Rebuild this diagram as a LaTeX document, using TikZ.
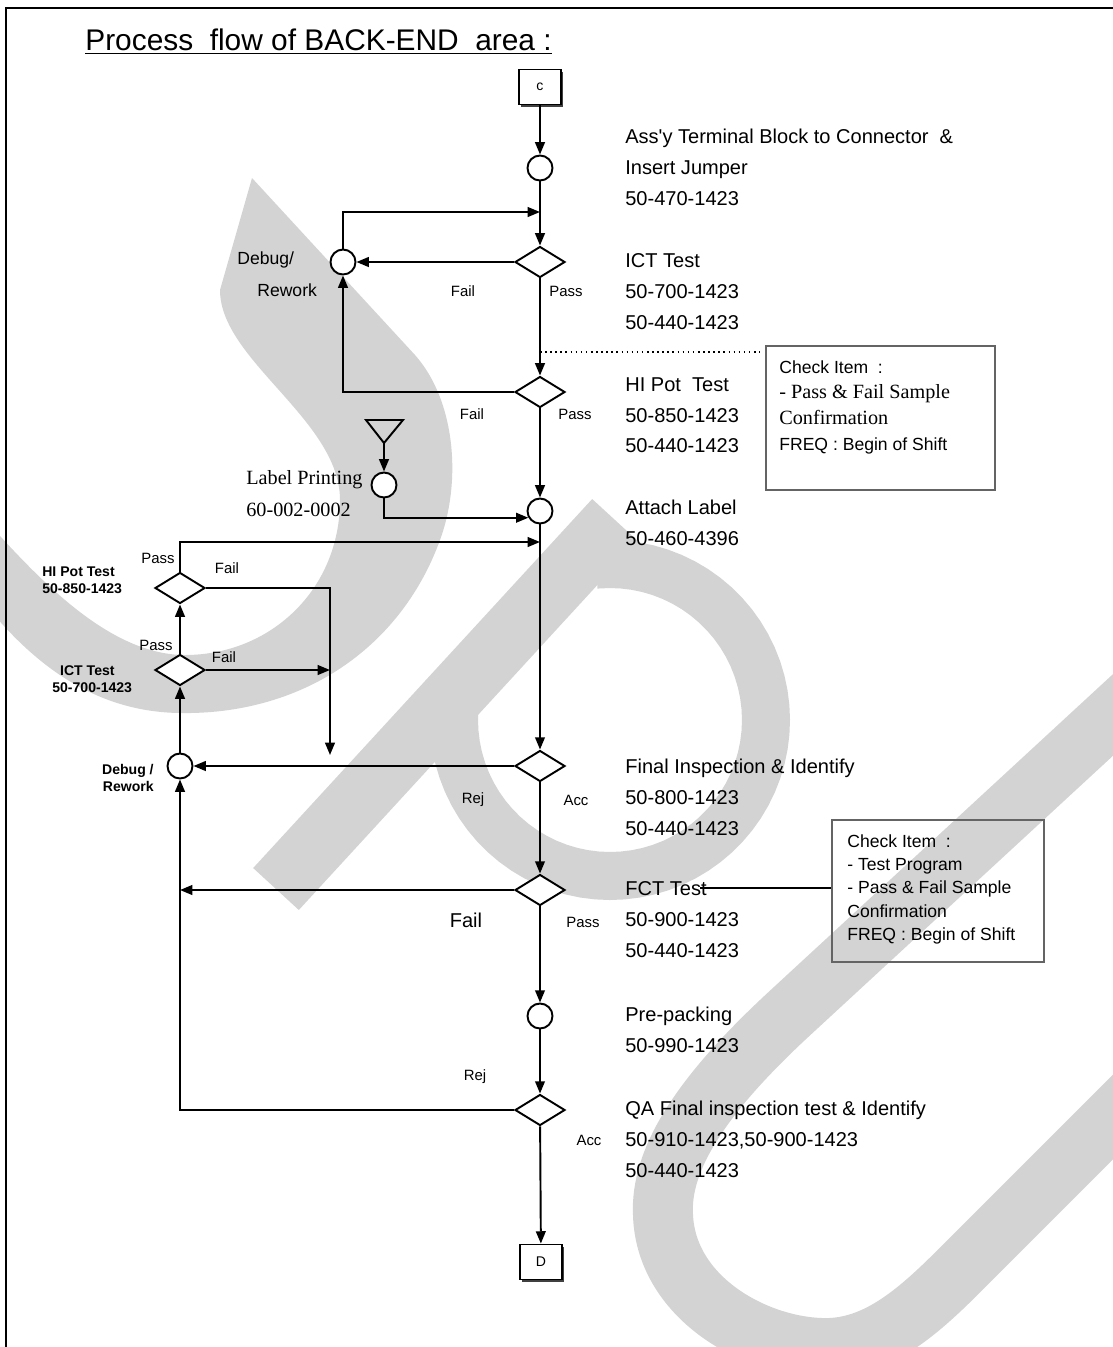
\documentclass[tikz,border=0pt]{standalone}
\usepackage{fontspec}
\setmainfont{Liberation Sans}
\newfontfamily\serifface{Liberation Serif}
\usetikzlibrary{arrows.meta,shapes.geometric,shadows}
\definecolor{wmgrey}{RGB}{211,211,211}
\definecolor{boxgrey}{RGB}{100,100,100}
\newcommand\stepfont{\fontsize{11.4}{17.6}\selectfont}
\newcommand\tagfont{\fontsize{8.5}{10}\selectfont}

\begin{document}
\begin{tikzpicture}[x=0.02cm,y=-0.02cm,
  flow/.style={line width=1.1pt},
  arr/.style={flow,-{Triangle[length=7pt,width=5.5pt]}},
  opcirc/.style={circle,draw,flow,fill=white,minimum size=0.5cm,inner sep=0pt},
  testdia/.style={diamond,draw,flow,fill=white,minimum width=1cm,minimum height=0.62cm,inner sep=0pt},
  termbox/.style={rectangle,draw,flow,fill=white,minimum width=0.84cm,minimum height=0.7cm,inner sep=0pt,
    font=\fontsize{8}{9}\selectfont,drop shadow={shadow xshift=1.3pt,shadow yshift=-1.3pt,fill=black!75,opacity=1}},
  chkbox/.style={rectangle,draw=boxgrey,line width=1.2pt},
  steptext/.style={anchor=north west,align=left,inner sep=0pt,font=\stepfont},
  tag/.style={inner sep=0pt,font=\tagfont},
  wm/.style={wmgrey,line width=1.2cm}]

\useasboundingbox (0,0) rectangle (1113,1347);
\fill[white] (0,0) rectangle (1113,1347);

% watermark
\begin{scope}
  \clip (0,0) rectangle (1113,1347);
  \fill[wmgrey] (252,178) -- (415,355) .. controls (455,400) and (462,480) .. (440,540)
    .. controls (400,650) and (300,715) .. (180,713) .. controls (100,712) and (40,670) .. (-10,610)
    -- (-10,525) .. controls (40,580) and (110,655) .. (185,655)
    .. controls (270,655) and (340,590) .. (340,500)
    .. controls (340,420) and (220,360) .. (220,290) -- cycle;
  \draw[wm,line width=1.24cm] (276,889) -- (615,520);
  \draw[wm,line width=0.96cm] plot[domain=-95:185,samples=60] ({610+156*cos(\x)},{720+156*sin(\x)});
  \draw[wm] (1140,690) -- (790,1013) .. controls (700,1096) and (660,1160) .. (663,1215)
    .. controls (666,1300) and (760,1350) .. (830,1348)
    .. controls (880,1346) and (920,1310) .. (960,1270) -- (1140,1090);
\end{scope}

% frame and title
\draw[line width=1.2pt] (6,1347) -- (6,8) -- (1113,8);
\node[anchor=west,inner sep=0pt,font=\fontsize{17}{19}\selectfont] (title) at (85,42)
  {\underline{Process~~flow of BACK-END~~area :}};

% main line
\node[termbox] (cbox) at (540,87) {c};
\node[opcirc] (op1) at (540,168) {};
\node[testdia] (ict) at (540,262) {};
\node[opcirc] (rw1) at (343,262) {};
\node[testdia] (hipot) at (540,392) {};
\node[opcirc] (lbl) at (384,485) {};
\node[opcirc] (att) at (540,511) {};
\node[testdia] (fin) at (540,766) {};
\node[testdia] (fct) at (540,890) {};
\node[opcirc] (pre) at (540,1016) {};
\node[testdia] (qa) at (540,1110) {};
\node[termbox] (dbox) at (541,1262) {D};

% retest branch
\node[testdia] (hp2) at (180,588) {};
\node[testdia] (ict2) at (180,670) {};
\node[opcirc] (rw2) at (180,766) {};

\coordinate (lp1) at (540,212);
\coordinate (lp2) at (540,542);
\coordinate (fdrop) at (330,755);
\coordinate (hpdot) at (540,352);
\coordinate (tritip) at (384,443);
\coordinate (fctend) at (700,888);

\draw[arr] (cbox) -- (op1);
\draw[arr] (op1) -- (ict);
\draw[arr] (rw1.north) |- (lp1);
\draw[arr] (ict) -- (rw1);
\draw[arr] (ict) -- (hipot);
\draw[arr] (hipot.west) -| (rw1.south);
\draw[arr] (hipot) -- (att);
\draw[flow] (366,420) -- (403,420) -- (tritip) -- cycle;
\draw[arr] (tritip) -- (lbl);
\draw[arr] (lbl.south) |- (att.210);
\draw[arr] (hp2.north) |- (lp2);
\draw[arr] (hp2.east) -| (fdrop);
\draw[arr] (ict2.east) -- (ict2.east -| fdrop);
\draw[arr] (ict2) -- (hp2);
\draw[arr] (rw2) -- (ict2);
\draw[arr] (att) -- (fin);
\draw[arr] (fin) -- (rw2);
\draw[arr] (fin) -- (fct);
\draw[arr] (fct.west) -- (fct.west -| rw2);
\draw[arr] (fct) -- (pre);
\draw[arr] (pre) -- (qa);
\draw[arr] (qa.west) -| (rw2.south);
\draw[arr] (qa) -- (dbox);

% check items
\node[chkbox,minimum width=4.58cm,minimum height=2.88cm] (chk1) at (880.5,418) {};
\node[anchor=north west,align=left,inner sep=0pt,font=\fontsize{10}{14.7}\selectfont] (chk1txt) at (779,360)
  {Check Item~~:\\{\serifface\fontsize{11.5}{14.7}\selectfont - Pass \& Fail Sample}\\
   {\serifface\fontsize{11.5}{14.7}\selectfont Confirmation}\\FREQ : Begin of Shift};
\draw[dotted,line width=0.9pt] (hpdot) -- ([xshift=-3pt]hpdot -| chk1.west);
\node[chkbox,minimum width=4.24cm,minimum height=2.84cm] (chk2) at (938,891) {};
\node[anchor=north west,align=left,inner sep=0pt,font=\fontsize{10}{13.3}\selectfont] (chk2txt) at (847,834)
  {Check Item~~:\\- Test Program\\- Pass \& Fail Sample\\Confirmation\\FREQ : Begin of Shift};
\draw[line width=0.6pt] (fctend) -- (fctend -| chk2.west);

% step texts
\node[steptext] (t1) at (625,129) {Ass\textquotesingle y Terminal Block to Connector~~\&\\Insert Jumper\\50-470-1423};
\node[steptext] (t2) at (625,253) {ICT Test\\50-700-1423\\50-440-1423};
\node[steptext] (t3) at (625,377) {HI Pot~~Test\\50-850-1423\\50-440-1423};
\node[steptext] (t4) at (625,500) {Attach Label\\50-460-4396};
\node[steptext] (t5) at (625,759) {Final Inspection \& Identify\\50-800-1423\\50-440-1423};
\node[steptext] (t6) at (625,881) {FCT Test\\50-900-1423\\50-440-1423};
\node[steptext] (t7) at (625,1007) {Pre-packing\\50-990-1423};
\node[steptext] (t8) at (625,1101) {QA Final inspection test \& Identify\\50-910-1423,50-900-1423\\50-440-1423};

% side labels
\node[anchor=west,inner sep=0pt,font=\fontsize{10}{12}\selectfont] (dbg1) at (237,260) {Debug/};
\node[anchor=west,inner sep=0pt,font=\fontsize{10}{12}\selectfont] (rwk1) at (257,290) {Rework};
\node[anchor=west,inner sep=0pt,font=\serifface\fontsize{11.5}{13}\selectfont] (lptxt) at (246,480) {Label Printing};
\node[anchor=west,inner sep=0pt,font=\serifface\fontsize{11.5}{13}\selectfont] (lpnum) at (246,510) {60-002-0002};
\node[anchor=west,align=left,inner sep=0pt,font=\bfseries\fontsize{8}{9.5}\selectfont] (hp2txt) at (42,580) {HI Pot Test\\50-850-1423};
\node[anchor=west,align=left,inner sep=0pt,font=\bfseries\fontsize{8}{9.5}\selectfont] (ict2txt) at (52,679) {~~ICT Test\\50-700-1423};
\node[anchor=east,align=right,inner sep=0pt,font=\bfseries\fontsize{8}{9.5}\selectfont] (rw2txt) at (154,778) {Debug /\\Rework};
\node[inner sep=0pt,font=\stepfont] (fctfail) at (466,920) {Fail};
\foreach \t/\x/\y [count=\i] in {Fail/463/291,Pass/566/291,Fail/472/414,Pass/575/414,
    Pass/158/558,Fail/227/568,Pass/156/645,Fail/224/657,Rej/473/800,Acc/576/800,
    Pass/583/922,Rej/475/1077,Acc/589/1140}
  \node[tag] (tag\i) at (\x,\y) {\t};
\end{tikzpicture}
\end{document}
